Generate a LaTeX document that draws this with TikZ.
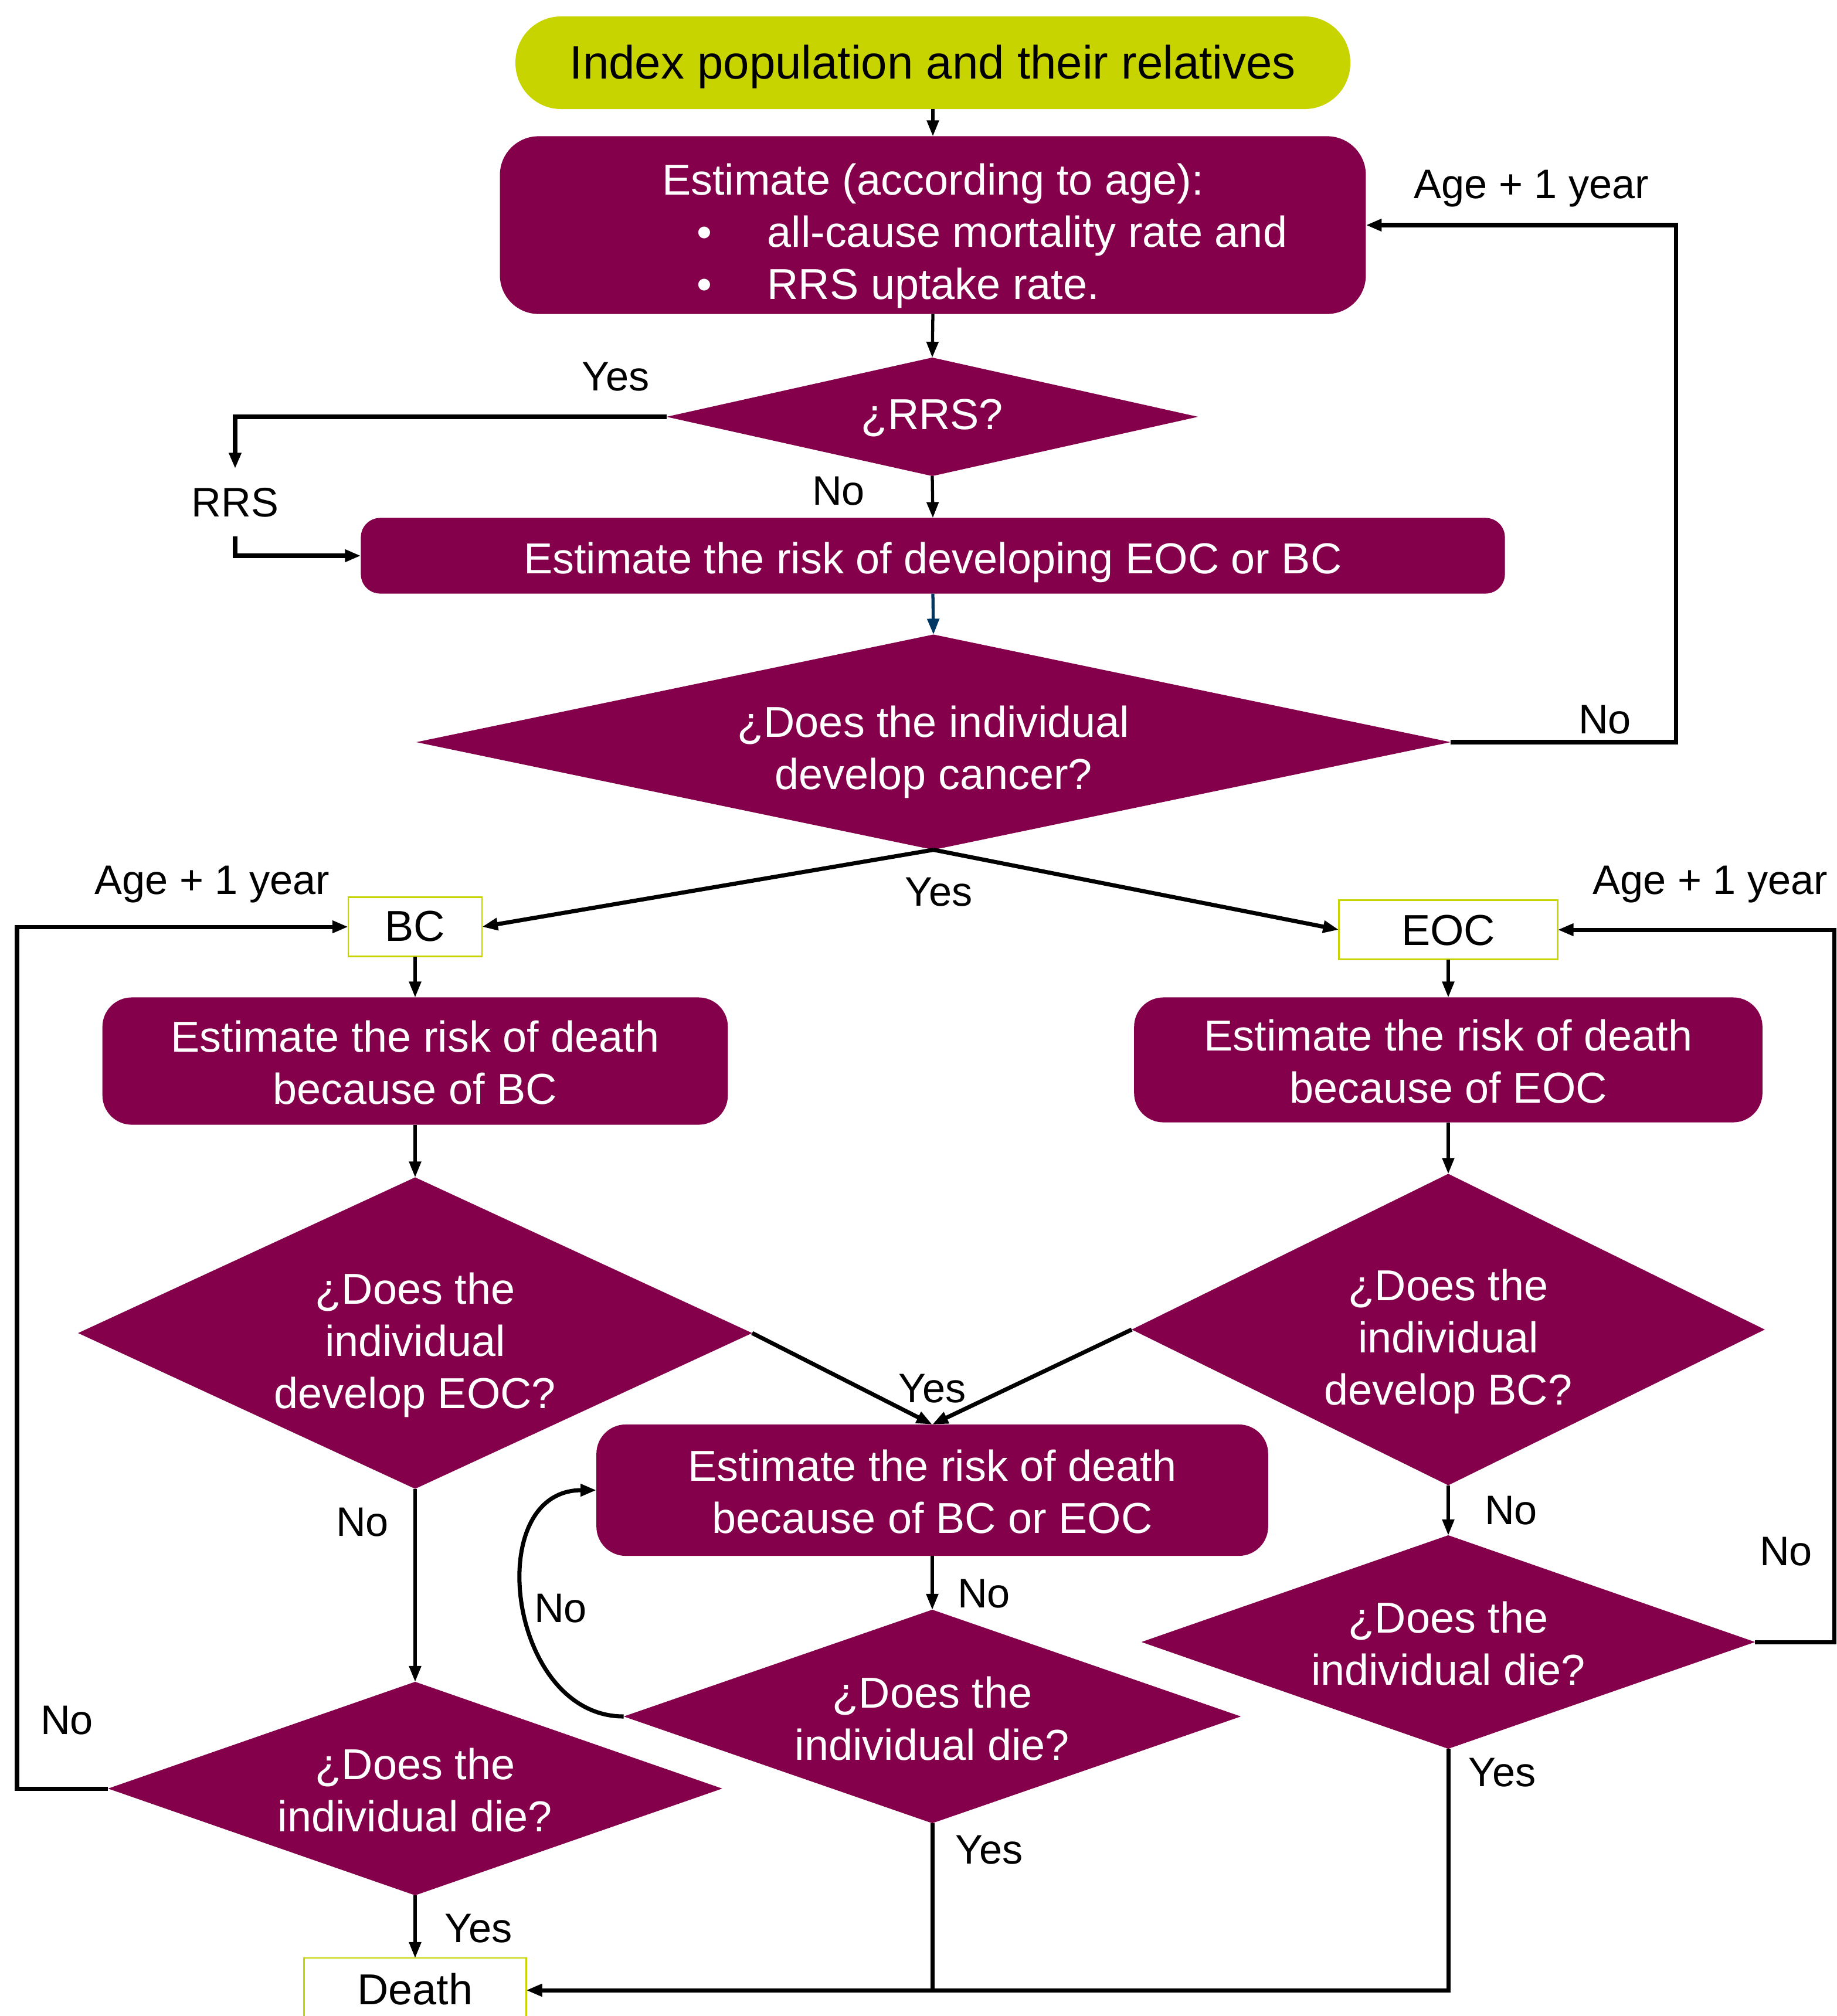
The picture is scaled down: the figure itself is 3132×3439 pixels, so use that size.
\documentclass[tikz,border=0pt]{standalone}
\usepackage{fontspec}
\setmainfont{Liberation Sans}
\usepackage{xcolor}
\usetikzlibrary{shapes.geometric, arrows.meta, calc}
\definecolor{mplum}{RGB}{133,0,75}
\definecolor{mlime}{RGB}{200,212,0}
\definecolor{mblue}{RGB}{0,56,101}
\newcommand{\lowered}[2]{\raisebox{-#1}[\height][\depth]{\begin{tabular}{@{}c@{}}#2\end{tabular}}}

\begin{document}
\begin{tikzpicture}[x=0.01cm, y=-0.01cm,
  txt/.style={font=\fontsize{21}{25.3}\selectfont},
  lbl/.style={font=\fontsize{20}{24}\selectfont, inner sep=0pt},
  procbox/.style={fill=mplum, text=white, rounded corners=0.5cm,
                  inner sep=0pt, outer sep=0pt, txt},
  decision/.style={diamond, fill=mplum, text=white,
                   inner sep=0pt, outer sep=0pt, txt},
  tagbox/.style={draw=mlime, line width=0.8pt, fill=white, inner sep=0pt, outer sep=0pt, txt},
  arrow/.style={-{Triangle[length=0.27cm, width=0.2cm]}, line width=1.5pt},
  looparrow/.style={arrow, line width=2pt}
]
  \useasboundingbox (0,0) rectangle (3132,3439);
  \node[fill=mlime, rounded corners=0.78cm, minimum width=14.23cm, minimum height=1.58cm,
        inner sep=0pt, outer sep=0pt, font=\fontsize{22.7}{27}\selectfont] (start) at (1591,107)
        {\lowered{0.09cm}{Index population and their relatives}};
  \node[procbox, minimum width=14.76cm, minimum height=3.03cm, rounded corners=0.66cm] (estage) at (1591,384)
        {\lowered{0.2cm}{\makebox[14cm]{Estimate (according to age):}\\
         \makebox[14cm][l]{\hspace{2.98cm}\textbullet\hspace{0.94cm}all-cause mortality rate and}\\
         \makebox[14cm][l]{\hspace{2.98cm}\textbullet\hspace{0.94cm}RRS uptake rate.}}};
  \node[decision, minimum width=9.06cm, minimum height=2.02cm, aspect=4.49] (rrs) at (1590,711)
        {\lowered{0.04cm}{¿RRS?}};
  \node[lbl, inner ysep=0.32cm] (rrslbl) at (401,857) {RRS};
  \node[procbox, minimum width=19.5cm, minimum height=1.29cm, rounded corners=0.33cm] (estrisk) at (1591,948)
        {\lowered{0.13cm}{Estimate the risk of developing EOC or BC}};
  \node[decision, minimum width=17.63cm, minimum height=3.67cm, aspect=4.8] (cancer) at (1592,1266)
        {\lowered{0.18cm}{¿Does the individual\\ develop cancer?}};
  \node[tagbox, minimum width=2.28cm, minimum height=1.01cm] (bc) at (708,1581) {\lowered{0.07cm}{BC}};
  \node[tagbox, minimum width=3.73cm, minimum height=1.01cm] (eoc) at (2470,1586) {\lowered{0.09cm}{EOC}};
  \node[procbox, minimum width=10.66cm, minimum height=2.17cm] (bcrisk) at (708,1810)
        {\lowered{0.11cm}{Estimate the risk of death\\ because of BC}};
  \node[procbox, minimum width=10.71cm, minimum height=2.13cm] (eocrisk) at (2470,1808)
        {\lowered{0.11cm}{Estimate the risk of death\\ because of EOC}};
  \node[decision, minimum width=11.49cm, minimum height=5.31cm, aspect=2.16] (bceoc) at (708,2274)
        {\lowered{0.22cm}{¿Does the\\ individual\\ develop EOC?}};
  \node[decision, minimum width=10.79cm, minimum height=5.31cm, aspect=2.03] (eocbc) at (2470,2268)
        {\lowered{0.22cm}{¿Does the\\ individual\\ develop BC?}};
  \node[procbox, minimum width=11.45cm, minimum height=2.24cm] (bothrisk) at (1590,2542)
        {\lowered{0.11cm}{Estimate the risk of death\\ because of BC or EOC}};
  \node[decision, minimum width=10.52cm, minimum height=3.64cm, aspect=2.89] (middie) at (1590,2928)
        {\lowered{0.12cm}{¿Does the\\ individual die?}};
  \node[decision, minimum width=10.46cm, minimum height=3.64cm, aspect=2.87] (eocdie) at (2470,2801)
        {\lowered{0.11cm}{¿Does the\\ individual die?}};
  \node[decision, minimum width=10.47cm, minimum height=3.64cm, aspect=2.88] (bcdie) at (708,3051)
        {\lowered{0.11cm}{¿Does the\\ individual die?}};
  \node[tagbox, minimum width=3.79cm, minimum height=1.1cm] (death) at (708,3395) {\lowered{0.07cm}{Death}};

  \node[lbl] (yesrrs) at (1050,643) {Yes};
  \node[lbl] (norrs) at (1430,838) {No};
  \node[lbl] (agetop) at (2612,322) {Age + 1 year};
  \node[lbl] (nocancer) at (2737,1228) {No};
  \node[lbl] (yescancer) at (1601,1522) {Yes};
  \node[lbl] (ageleft) at (362,1509) {Age + 1 year};
  \node[lbl] (ageright) at (2917,1509) {Age + 1 year};
  \node[lbl] (yesboth) at (1590,2369) {Yes};
  \node[lbl] (nobceoc) at (618,2597) {No};
  \node[lbl] (nobcdie) at (114,2935) {No};
  \node[lbl] (yesbcdie) at (816,3290) {Yes};
  \node[lbl] (noboth) at (1678,2719) {No};
  \node[lbl] (nomiddie) at (956,2744) {No};
  \node[lbl] (yesmiddie) at (1687,3156) {Yes};
  \node[lbl] (noeocbc) at (2577,2577) {No};
  \node[lbl] (yeseocdie) at (2562,3024) {Yes};
  \node[lbl] (noeocdie) at (3046,2647) {No};

  \coordinate (toploop) at (2858,0);
  \coordinate (leftloop) at (29,0);
  \coordinate (rightloop) at (3128,0);

  \draw[arrow] (start.south) -- (estage.north);
  \draw[arrow] (estage.south) -- (rrs.north);
  \draw[looparrow] (rrs.west) -| (rrslbl.north);
  \draw[looparrow] (rrslbl.south) |- (estrisk.west);
  \draw[arrow] (rrs.south) -- (estrisk.north);
  \draw[arrow, color=mblue] (estrisk.south) -- (cancer.north);
  \draw[looparrow] (cancer.east) -- (cancer.east -| toploop) |- (estage.east);
  \draw[looparrow] (cancer.south) -- (bc.east);
  \draw[looparrow] (cancer.south) -- (eoc.west);
  \draw[arrow] (bc.south) -- (bcrisk.north);
  \draw[arrow] (eoc.south) -- (eocrisk.north);
  \draw[arrow] (bcrisk.south) -- (bceoc.north);
  \draw[arrow] (eocrisk.south) -- (eocbc.north);
  \draw[looparrow] (bceoc.east) -- (bothrisk.north);
  \draw[looparrow] (eocbc.west) -- (bothrisk.north);
  \draw[arrow] (bceoc.south) -- (bcdie.north);
  \draw[arrow] (eocbc.south) -- (eocdie.north);
  \draw[arrow] (bothrisk.south) -- (middie.north);
  \draw[looparrow] (middie.west) to[out=180, in=180, looseness=1.3] (bothrisk.west);
  \draw[looparrow] (bcdie.west) -- (bcdie.west -| leftloop) |- (bc.west);
  \draw[looparrow] (eocdie.east) -- (eocdie.east -| rightloop) |- (eoc.east);
  \draw[arrow] (bcdie.south) -- (death.north);
  \draw[looparrow] (middie.south) |- (death.east);
  \draw[looparrow] (eocdie.south) |- (death.east);
\end{tikzpicture}
\end{document}
